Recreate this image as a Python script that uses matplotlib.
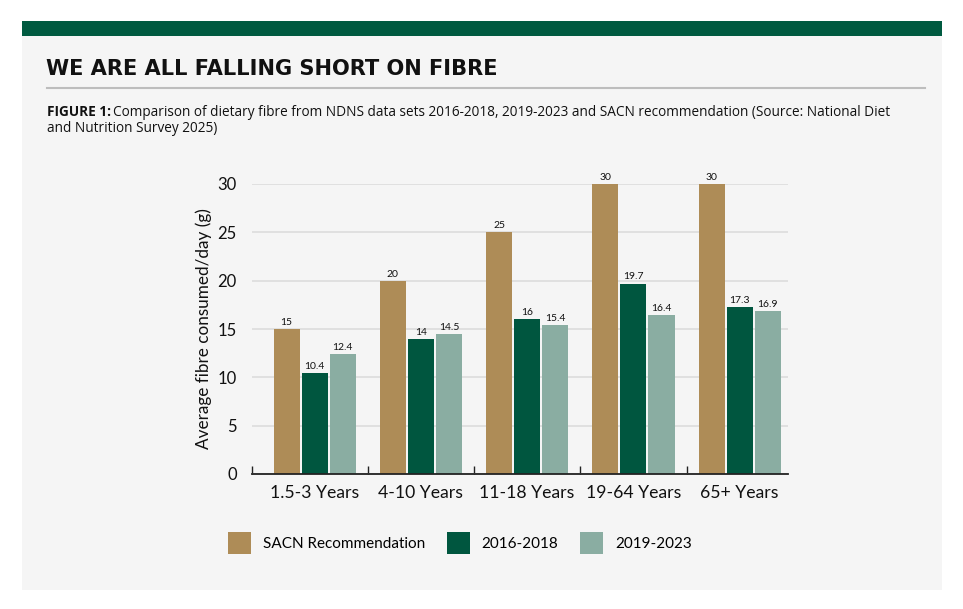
import matplotlib.pyplot as plt
import numpy as np
from matplotlib.patches import Patch, Rectangle
from matplotlib.lines import Line2D

categories = ["1.5-3 Years", "4-10 Years", "11-18 Years", "19-64 Years", "65+ Years"]
series_names = ["SACN Recommendation", "2016-2018", "2019-2023"]
sacn = [15, 20, 25, 30, 30]
ndns_2016_2018 = [10.4, 14, 16, 19.7, 17.3]
ndns_2019_2023 = [12.4, 14.5, 15.4, 16.4, 16.9]
value_labels = [
    ["15", "20", "25", "30", "30"],
    ["10.4", "14", "16", "19.7", "17.3"],
    ["12.4", "14.5", "15.4", "16.4", "16.9"],
]
y_ticks = [0, 5, 10, 15, 20, 25, 30]

COLORS = ["#AE8C57", "#00563F", "#8AADA2"]
DARK_GREEN = "#005A40"
PANEL = "#F5F5F5"
FONT = ["Lato", "DejaVu Sans"]

plt.rcParams["font.family"] = FONT

fig = plt.figure(figsize=(9.63, 6.09), dpi=100, facecolor="white")

# panel and header band
fig.add_artist(Rectangle((22 / 963, 1 - 590 / 609), 920 / 963, 569 / 609,
                         transform=fig.transFigure, facecolor=PANEL,
                         edgecolor="none", zorder=-10))
fig.add_artist(Rectangle((22 / 963, 1 - 36 / 609), 920 / 963, 15 / 609,
                         transform=fig.transFigure, facecolor=DARK_GREEN,
                         edgecolor="none", zorder=-9))

fig.text(46 / 963, 1 - 69 / 609, "WE ARE ALL FALLING SHORT ON FIBRE",
         fontsize=15.1, fontweight="bold", color="#111111", va="center",
         family=["DejaVu Sans"])
fig.add_artist(Line2D([47 / 963, 925 / 963], [1 - 88 / 609, 1 - 88 / 609],
                      transform=fig.transFigure, color="#BDBDBD", lw=1.5))

sub_font = ["Open Sans", "DejaVu Sans"]
t = fig.text(47 / 963, 1 - 112 / 609, "FIGURE 1:", fontsize=9.85,
             fontweight="bold", color="#111111", va="center", family=sub_font)
fig.canvas.draw()
bb = t.get_window_extent()
fig.text(bb.x1 / 963 + 2 / 963, 1 - 112 / 609,
         "Comparison of dietary fibre from NDNS data sets 2016-2018, 2019-2023 "
         "and SACN recommendation (Source: National Diet",
         fontsize=9.85, color="#111111", va="center", family=sub_font)
fig.text(47 / 963, 1 - 128 / 609, "and Nutrition Survey 2025)",
         fontsize=9.85, color="#111111", va="center", family=sub_font)

ax = fig.add_axes([252 / 963, 1 - 474 / 609, 536 / 963, 290 / 609])
ax.set_facecolor("none")

x = np.arange(len(categories))
pitch = 0.264
width = 0.245
data = [sacn, ndns_2016_2018, ndns_2019_2023]
for i, (vals, labels) in enumerate(zip(data, value_labels)):
    pos = x + (i - 1) * pitch
    bars = ax.bar(pos, vals, width=width, color=COLORS[i], zorder=3,
                  label=series_names[i])
    for rect, lab in zip(bars, labels):
        ax.annotate(lab, (rect.get_x() + rect.get_width() / 2, rect.get_height()),
                    xytext=(0, 1.5), textcoords="offset points",
                    ha="center", va="bottom", fontsize=7.5, color="#111111",
                    annotation_clip=False)

ax.set_xlim(-0.589, 4.454)
ax.set_ylim(0, 30)
ax.set_yticks(y_ticks)
ax.set_yticklabels([str(v) for v in y_ticks], fontsize=12, color="#111111")
ax.yaxis.grid(True, color="#DCDCDC", lw=1.2, zorder=0)
ax.tick_params(axis="y", length=0, pad=11)

ax.set_xticks([-0.589, 0.5, 1.5, 2.5, 3.5])
ax.set_xticklabels([])
ax.tick_params(axis="x", direction="in", length=6, width=1, color="#222222")
ax.set_xticks(x, minor=True)
ax.set_xticklabels(categories, minor=True, fontsize=12.7, color="#111111")
ax.tick_params(axis="x", which="minor", length=0, pad=8)

for side in ["top", "right", "left"]:
    ax.spines[side].set_visible(False)
ax.spines["bottom"].set_color("#222222")
ax.spines["bottom"].set_linewidth(1.3)
ax.spines["bottom"].set_zorder(4)

ax.set_ylabel("Average fibre consumed/day (g)", fontsize=12.3, color="#111111",
              labelpad=4)

handles = [Patch(facecolor=c, edgecolor="none") for c in COLORS]
fig.legend(handles, series_names, loc="center", ncol=3,
           bbox_to_anchor=(460 / 963, 1 - 543 / 609), frameon=False,
           fontsize=11, handlelength=1.5, handleheight=1.85,
           handletextpad=0.75, columnspacing=1.45)

fig.savefig("out.png", dpi=100, facecolor="white")
